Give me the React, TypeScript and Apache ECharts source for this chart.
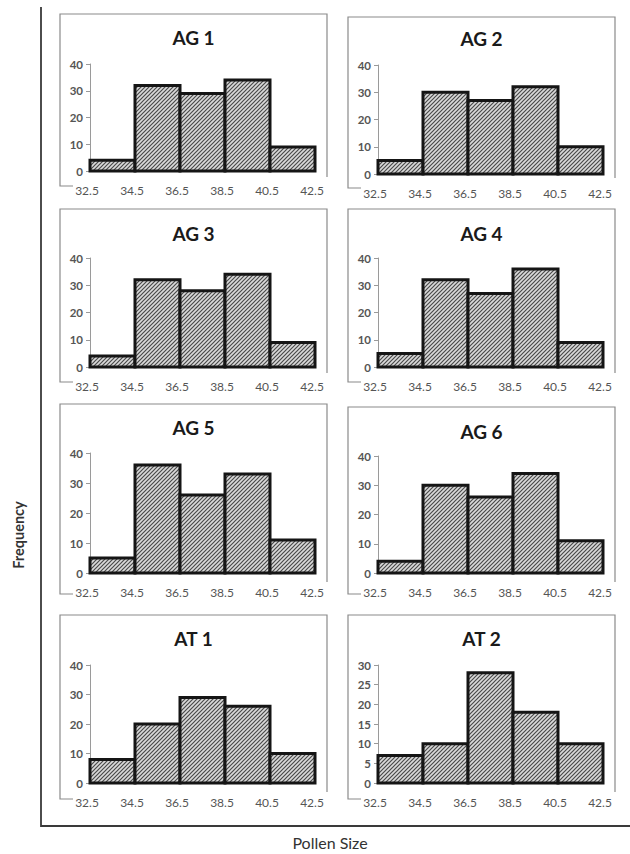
import React, { useEffect, useRef } from "react";
import * as echarts from "echarts";

// ---- Data ----
const binEdges = ["32.5", "34.5", "36.5", "38.5", "40.5", "42.5"];
const panelTitles = ["AG 1", "AG 2", "AG 3", "AG 4", "AG 5", "AG 6", "AT 1", "AT 2"];
const ag1 = [4, 32, 29, 34, 9];
const ag2 = [5, 30, 27, 32, 10];
const ag3 = [4, 32, 28, 34, 9];
const ag4 = [5, 32, 27, 36, 9];
const ag5 = [5, 36, 26, 33, 11];
const ag6 = [4, 30, 26, 34, 11];
const at1 = [8, 20, 29, 26, 10];
const at2 = [7, 10, 28, 18, 10];
const yMaxes = [40, 40, 40, 40, 40, 40, 40, 30];
const yIntervals = [10, 10, 10, 10, 10, 10, 10, 5];
const xAxisTitle = "Pollen Size";
const yAxisTitle = "Frequency";

const panelValues = [ag1, ag2, ag3, ag4, ag5, ag6, at1, at2];

// ---- Layout (pixels) ----
const colBox = [
  [60, 327],
  [348, 615],
];
const colPlot = [90, 378];
const plotWidth = 225;
const panelLayout = [
  { boxTop: 14, titleY: 37, top: 64, bottom: 171, lBottom: 186, rEnd: 177 },
  { boxTop: 17, titleY: 38, top: 65, bottom: 174, lBottom: 188, rEnd: 178 },
  { boxTop: 209, titleY: 233, top: 258, bottom: 367, lBottom: 382, rEnd: 373 },
  { boxTop: 209, titleY: 233, top: 258, bottom: 367, lBottom: 382, rEnd: 373 },
  { boxTop: 404, titleY: 427, top: 453, bottom: 573, lBottom: 594, rEnd: 582 },
  { boxTop: 407, titleY: 431, top: 456, bottom: 573, lBottom: 594, rEnd: 582 },
  { boxTop: 615, titleY: 638, top: 665, bottom: 783, lBottom: 799, rEnd: 792 },
  { boxTop: 615, titleY: 638, top: 665, bottom: 783, lBottom: 799, rEnd: 792 },
];

const FONT = "Lato, 'Open Sans', sans-serif";

function makeHatch(): any {
  const c = document.createElement("canvas");
  c.width = 4;
  c.height = 4;
  const ctx = c.getContext("2d")!;
  ctx.fillStyle = "#dadada";
  ctx.fillRect(0, 0, 4, 4);
  ctx.strokeStyle = "#4a4a4a";
  ctx.lineWidth = 1.2;
  ctx.beginPath();
  ctx.moveTo(-1, 5);
  ctx.lineTo(5, -1);
  ctx.moveTo(-1, 1);
  ctx.lineTo(1, -1);
  ctx.moveTo(3, 5);
  ctx.lineTo(5, 3);
  ctx.stroke();
  return { image: c, repeat: "repeat" };
}

export default function App() {
  const ref = useRef<HTMLDivElement>(null);

  useEffect(() => {
    if (!ref.current) return;
    const chart = echarts.init(ref.current, null, { renderer: "svg" });
    const hatch = makeHatch();

    const grids: any[] = [];
    const xAxes: any[] = [];
    const yAxes: any[] = [];
    const series: any[] = [];
    const graphics: any[] = [];

    panelValues.forEach((vals, p) => {
      const col = p % 2;
      const L = panelLayout[p];
      grids.push({
        left: colPlot[col],
        top: L.top,
        width: plotWidth,
        height: L.bottom - L.top,
        containLabel: false,
      });
      xAxes.push({
        type: "value",
        gridIndex: p,
        min: 0,
        max: binEdges.length - 1,
        interval: 1,
        axisLine: { show: true, lineStyle: { color: "#8c8c8c", width: 1 } },
        axisTick: { show: false },
        splitLine: { show: false },
        axisLabel: {
          show: true,
          showMinLabel: true,
          showMaxLabel: true,
          formatter: (v: number) => binEdges[Math.round(v)] ?? "",
          fontSize: 12,
          color: "#555555",
          fontFamily: FONT,
          margin: 13,
          padding: [0, 6, 0, 0],
        },
      });
      yAxes.push({
        type: "value",
        gridIndex: p,
        min: 0,
        max: yMaxes[p],
        interval: yIntervals[p],
        axisLine: { show: true, lineStyle: { color: "#9a9a9a", width: 1 } },
        axisTick: { show: true, length: 4, lineStyle: { color: "#9a9a9a" } },
        splitLine: { show: false },
        axisLabel: {
          fontSize: 11.5,
          fontWeight: "bold",
          color: "#555555",
          fontFamily: FONT,
          margin: 7,
        },
      });
      series.push({
        type: "custom",
        xAxisIndex: p,
        yAxisIndex: p,
        clip: false,
        data: vals.map((v, i) => [i, v]),
        renderItem: (params: any, api: any) => {
          const i = api.value(0);
          const v = api.value(1);
          const p0 = api.coord([i, 0]);
          const p1 = api.coord([i + 1, v]);
          return {
            type: "rect",
            shape: {
              x: p0[0],
              y: p1[1],
              width: p1[0] - p0[0],
              height: p0[1] - p1[1],
            },
            style: { fill: hatch, stroke: "#151515", lineWidth: 3 },
          };
        },
      });
      const [bx0, bx1] = colBox[col];
      graphics.push({
        type: "polyline",
        silent: true,
        shape: {
          points: [
            [bx0 + 13, L.lBottom],
            [bx0, L.lBottom],
            [bx0, L.boxTop],
            [bx1, L.boxTop],
            [bx1, L.rEnd],
          ],
        },
        style: { stroke: "#8a8a8a", lineWidth: 1.2, fill: null },
      });
      graphics.push({
        type: "text",
        x: (bx0 + bx1) / 2,
        y: L.titleY,
        style: {
          text: panelTitles[p],
          textAlign: "center",
          textVerticalAlign: "middle",
          font: `bold 19px ${FONT}`,
          fill: "#1a1a1a",
        },
      });
    });

    graphics.push({
      type: "polyline",
      silent: true,
      shape: {
        points: [
          [41, 7],
          [41, 826],
          [630, 826],
        ],
      },
      style: { stroke: "#3a3a3a", lineWidth: 1.8, fill: null },
    });
    graphics.push({
      type: "text",
      x: 330,
      y: 842,
      style: {
        text: xAxisTitle,
        textAlign: "center",
        textVerticalAlign: "middle",
        font: `16px ${FONT}`,
        fill: "#333",
      },
    });
    graphics.push({
      type: "text",
      x: 18,
      y: 535,
      rotation: Math.PI / 2,
      style: {
        text: yAxisTitle,
        textAlign: "center",
        textVerticalAlign: "middle",
        font: `bold 14.5px ${FONT}`,
        fill: "#333",
      },
    });

    chart.setOption({
      animation: false,
      backgroundColor: "#ffffff",
      grid: grids,
      xAxis: xAxes,
      yAxis: yAxes,
      series,
      graphic: graphics,
    });

    return () => chart.dispose();
  }, []);

  return (
    <div
      ref={ref}
      style={{ position: "absolute", left: 0, top: 0, width: 630, height: 854 }}
    />
  );
}
